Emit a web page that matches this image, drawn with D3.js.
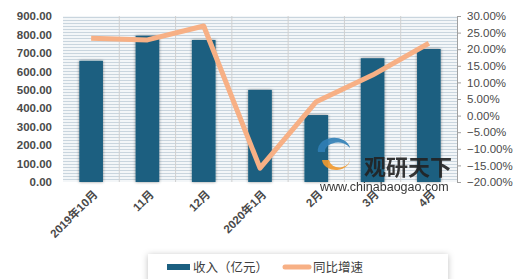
<!DOCTYPE html>
<html>
<head>
<meta charset="utf-8">
<script src="https://cdn.jsdelivr.net/npm/d3@7/dist/d3.min.js"></script>
<style>
  body { margin: 0; background: #fff; }
  text { font-family: "Liberation Sans", Arial, "Noto Sans CJK SC", sans-serif; }
</style>
</head>
<body>
<svg id="chart" width="520" height="279"></svg>
<script>
const categories = ["2019年10月", "11月", "12月", "2020年1月", "2月", "3月", "4月"];
const revenue = [657, 793, 770, 499, 363, 671, 721];
const growth = [23.3, 22.8, 27.0, -15.8, 4.2, 12.2, 21.8];
const leftTicks = [0, 100, 200, 300, 400, 500, 600, 700, 800, 900];
const rightTicks = [-20, -15, -10, -5, 0, 5, 10, 15, 20, 25, 30];

const svg = d3.select("#chart");
const m = { left: 63, right: 457, top: 16, bottom: 182 };

const defs = svg.append("defs");
const pat = defs.append("pattern")
  .attr("id", "stripes").attr("patternUnits", "userSpaceOnUse")
  .attr("width", 6).attr("height", 3);
pat.append("rect").attr("width", 6).attr("height", 3).attr("fill", "#f3f6f8");
pat.append("rect").attr("y", 2).attr("width", 6).attr("height", 1).attr("fill", "#c9d5de");

const sh = defs.append("filter").attr("id", "shadow")
  .attr("x", "-30%").attr("y", "-10%").attr("width", "160%").attr("height", "130%");
sh.append("feDropShadow").attr("dx", 0).attr("dy", 0).attr("stdDeviation", 1.6)
  .attr("flood-color", "#000").attr("flood-opacity", 0.45);

const lsh = defs.append("filter").attr("id", "lshadow")
  .attr("x", "-10%").attr("y", "-40%").attr("width", "120%").attr("height", "180%");
lsh.append("feDropShadow").attr("dx", 0).attr("dy", 1).attr("stdDeviation", 3)
  .attr("flood-color", "#000").attr("flood-opacity", 0.25);

const x = d3.scaleBand().domain(categories).range([m.left, m.right]).paddingInner(0).paddingOuter(0);
const yL = d3.scaleLinear().domain([0, 900]).range([m.bottom, m.top]);
const yR = d3.scaleLinear().domain([-20, 30]).range([m.bottom, m.top]);

// plot background
svg.append("rect")
  .attr("x", m.left).attr("y", m.top)
  .attr("width", m.right - m.left).attr("height", m.bottom - m.top)
  .attr("fill", "url(#stripes)");

// vertical grid lines at category edges
svg.append("g").selectAll("line")
  .data(categories.slice(1))
  .join("line")
  .attr("x1", d => x(d)).attr("x2", d => x(d))
  .attr("y1", m.top).attr("y2", m.bottom)
  .attr("stroke", "#d0d0d0").attr("stroke-width", 1);

// bars
const barW = x.bandwidth() * 0.42;
svg.append("g").selectAll("rect")
  .data(categories)
  .join("rect")
  .attr("x", d => x(d) + (x.bandwidth() - barW) / 2)
  .attr("y", (d, i) => yL(revenue[i]))
  .attr("width", barW)
  .attr("height", (d, i) => m.bottom - yL(revenue[i]))
  .attr("fill", "#1b5f80")
  .attr("filter", "url(#shadow)");

// left axis
const gl = svg.append("g").attr("transform", `translate(${m.left - 4},0)`)
  .call(d3.axisLeft(yL).tickValues(leftTicks).tickFormat(d3.format(".2f")).tickSize(0).tickPadding(7));
gl.select(".domain").remove();
gl.selectAll("text").attr("font-size", 11.5).attr("font-weight", "bold").attr("fill", "#4a4a4a");

// right axis
const gr = svg.append("g").attr("transform", `translate(${m.right},0)`)
  .call(d3.axisRight(yR).tickValues(rightTicks).tickFormat(d => d3.format(".2f")(d) + "%").tickSize(4).tickPadding(6));
gr.select(".domain").attr("stroke", "#a0a0a0");
gr.selectAll(".tick line").attr("stroke", "#a0a0a0");
gr.selectAll("text").attr("font-size", 11.5).attr("fill", "#4a4a4a");

// x labels
svg.append("g").selectAll("text")
  .data(categories)
  .join("text")
  .attr("transform", d => `translate(${x(d) + x.bandwidth() / 2 + 5},${m.bottom + 11}) rotate(-45)`)
  .attr("text-anchor", "end")
  .attr("dominant-baseline", "middle")
  .attr("font-size", 11.5).attr("font-weight", "bold").attr("fill", "#4a4a4a")
  .text(d => d);

// growth line
const line = d3.line()
  .x((d, i) => x(categories[i]) + x.bandwidth() / 2)
  .y(d => yR(d));
svg.append("path")
  .datum(growth)
  .attr("d", line)
  .attr("fill", "none")
  .attr("stroke", "#f7b085")
  .attr("stroke-width", 5)
  .attr("stroke-linejoin", "round");

// watermark
const wm = svg.append("g").attr("opacity", 0.9);
wm.append("path")
  .attr("d", "M322,160 a14,11 0 1,0 28,-2 a10,8 0 1,1 -21,2 z")
  .attr("fill", "#f29a2e");
wm.append("path")
  .attr("d", "M318,152 a16,12 0 0,1 32,-4 a13,9 0 0,0 -25,4 z")
  .attr("fill", "#2f7fb6");
wm.append("text").attr("x", 364).attr("y", 175)
  .attr("font-size", 22).attr("font-weight", "bold").attr("fill", "#222")
  .attr("font-family", "Noto Sans CJK SC").text("观研天下");
wm.append("text").attr("x", 320).attr("y", 191)
  .attr("font-size", 12.5).attr("fill", "#222")
  .text("www.chinabaogao.com");

// legend
const leg = svg.append("g");
leg.append("rect").attr("x", 148).attr("y", 254).attr("width", 300).attr("height", 30)
  .attr("fill", "#fff").attr("filter", "url(#lshadow)");
leg.append("rect").attr("x", 167).attr("y", 264).attr("width", 23).attr("height", 6).attr("fill", "#1b5f80");
leg.append("text").attr("x", 193).attr("y", 272).attr("font-size", 12.5).attr("fill", "#404040")
  .attr("font-family", "Noto Sans CJK SC").text("收入（亿元）");
leg.append("line").attr("x1", 285).attr("x2", 309).attr("y1", 267).attr("y2", 267)
  .attr("stroke", "#f7b085").attr("stroke-width", 5).attr("stroke-linecap", "round");
leg.append("text").attr("x", 313).attr("y", 272).attr("font-size", 12.5).attr("fill", "#404040")
  .attr("font-family", "Noto Sans CJK SC").text("同比增速");
</script>
</body>
</html>
